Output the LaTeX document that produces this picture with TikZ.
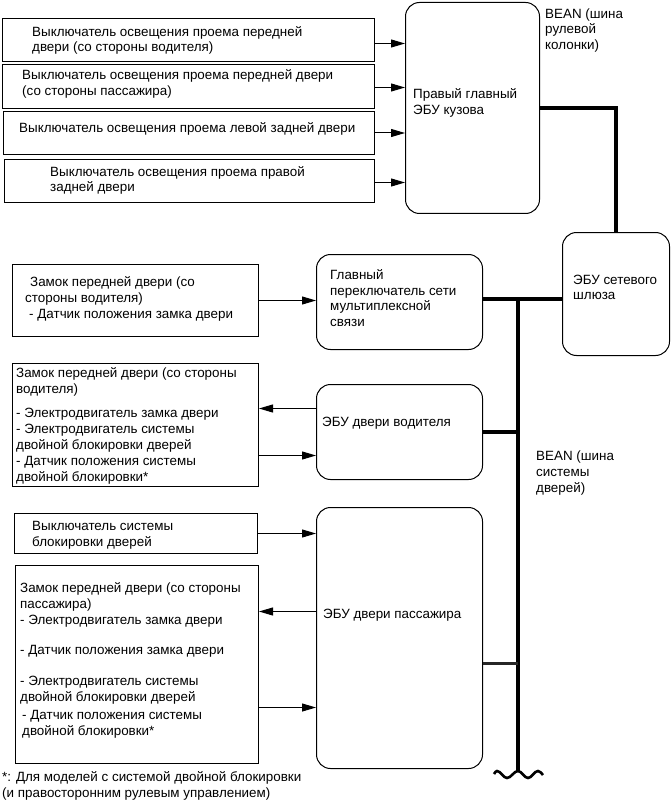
\documentclass[tikz,border=0pt]{standalone}
\usepackage{fontspec}
\setmainfont{Liberation Sans}
\usetikzlibrary{arrows.meta,positioning,calc}

\begin{document}
\begin{tikzpicture}[x=1pt,y=-1pt,
  box/.style={draw,line width=1pt,inner sep=0pt,anchor=north west},
  ecu/.style={box,rounded corners=14pt},
  txt/.style={font=\fontsize{13.4}{15.7}\selectfont,align=left,anchor=west,inner sep=0pt},
  arr/.style={line width=1pt,-{Triangle[length=14pt,width=8pt]}},
  bus/.style={line width=4pt},
  thinbus/.style={line width=2.2pt,black!85}
]
  \useasboundingbox (0,0) rectangle (670,802);
  % Door courtesy switches
  \node[box,minimum width=372pt,minimum height=43pt] (sw1) at (2,18) {};
  \node[txt] (sw1t) at (32,40.5) {Выключатель освещения проема передней\\двери (со стороны водителя)};
  \node[box,minimum width=372pt,minimum height=44pt] (sw2) at (2,64) {};
  \node[txt] (sw2t) at (22,84) {Выключатель освещения проема передней двери\\(со стороны пассажира)};
  \node[box,minimum width=371pt,minimum height=43pt] (sw3) at (3,111) {};
  \node[txt] (sw3t) at (19,129) {Выключатель освещения проема левой задней двери};
  \node[box,minimum width=370pt,minimum height=43pt] (sw4) at (4,159) {};
  \node[txt] (sw4t) at (50,180.5) {Выключатель освещения проема правой\\задней двери};
  % Body ECU and gateway
  \node[ecu,minimum width=134pt,minimum height=211pt] (body) at (405,2) {};
  \node[txt] (bodyt) at (413,103) {Правый главный\\ЭБУ кузова};
  \node[txt] (bean1) at (545,30.5) {BEAN (шина\\рулевой\\колонки)};
  \node[ecu,minimum width=107pt,minimum height=123pt] (gw) at (562,232) {};
  \node[txt] (gwt) at (573,287.5) {ЭБУ сетевого\\шлюза};
  % Multiplex network master switch
  \node[ecu,minimum width=166pt,minimum height=95pt] (msw) at (316,254) {};
  \node[txt] (mswt) at (330,298) {Главный\\переключатель сети\\мультиплексной\\связи};
  \node[box,minimum width=246pt,minimum height=72pt] (dl1) at (12,264) {};
  \node[txt] (dl1t) at (25,299) {\hspace*{5pt}Замок передней двери (со\\стороны водителя)\\\hspace*{4pt}- Датчик положения замка двери};
  % Driver door
  \node[box,minimum width=246pt,minimum height=123pt] (dlk) at (12,363) {};
  \node[txt] (dlkt) at (16,426) {Замок передней двери (со стороны\\водителя)\\[9pt]- Электродвигатель замка двери\\- Электродвигатель системы\\двойной блокировки дверей\\[1pt]- Датчик положения системы\\двойной блокировки*};
  \node[ecu,minimum width=166pt,minimum height=95pt] (decu) at (316,384) {};
  \node[txt] (decut) at (322,423) {ЭБУ двери водителя};
  % Passenger door
  \node[box,minimum width=243pt,minimum height=40pt] (lsw) at (14,513) {};
  \node[txt] (lswt) at (32,535.5) {Выключатель системы\\блокировки дверей};
  \node[box,minimum width=243pt,minimum height=198pt] (plk) at (15,565) {};
  \node[txt] (plkt) at (20,660.5) {Замок передней двери (со стороны\\пассажира)\\- Электродвигатель замка двери\\[15pt]- Датчик положения замка двери\\[15pt]- Электродвигатель системы\\двойной блокировки дверей\\[3pt]\hspace*{2pt}- Датчик положения системы\\\hspace*{2pt}двойной блокировки*};
  \node[ecu,minimum width=166pt,minimum height=261pt] (pecu) at (316,507) {};
  \node[txt] (pecut) at (323,615) {ЭБУ двери пассажира};
  \node[txt] (bean2) at (536,473) {BEAN (шина\\системы\\дверей)};
  \node[txt] (note) at (2,786) {*: Для моделей с системой двойной блокировки\\(и правосторонним рулевым управлением)};
  % Signal arrows
  \draw[arr] ([yshift=-3.5pt]sw1.east) -- ([yshift=-3.5pt]sw1.east -| body.west);
  \draw[arr] ([yshift=-1pt]sw2.east) -- ([yshift=-1pt]sw2.east -| body.west);
  \draw[arr] (sw3.east) -- (sw3.east -| body.west);
  \draw[arr] ([yshift=-1.5pt]sw4.east) -- ([yshift=-1.5pt]sw4.east -| body.west);
  \draw[arr] (dl1.east) -- (dl1.east -| msw.west);
  \draw[arr] ([yshift=16.5pt]dlk.east -| decu.west) -- ([yshift=16.5pt]dlk.east);
  \draw[arr] ([yshift=-30.5pt]dlk.east) -- ([yshift=-30.5pt]dlk.east -| decu.west);
  \draw[arr] (lsw.east) -- (lsw.east -| pecu.west);
  \draw[arr] ([yshift=53pt]plk.east -| pecu.west) -- ([yshift=53pt]plk.east);
  \draw[arr] ([yshift=-43pt]plk.east) -- ([yshift=-43pt]plk.east -| pecu.west);
  % BEAN buses
  \coordinate (busT) at (518,299);
  \coordinate (busB) at (518,771);
  \draw[bus] (body.east) -| (gw.north);
  \draw[bus] (msw.east |- busT) -- (gw.west |- busT);
  \draw[bus] (busT) -- (busB);
  \draw[bus] (decu.east) -- (decu.east -| busT);
  \draw[thinbus] ([yshift=-25.5pt]pecu.east) -- ([yshift=-25.5pt]pecu.east -| busT);
  \draw[line width=2.6pt] ($(busB)+(-24,3)$) sin ++(3,-3) cos ++(5,3.5) sin ++(5,3.5)
    cos ++(5.5,-3.5) sin ++(5.5,-3.5) cos ++(5,3.5) sin ++(5,3.5)
    cos ++(5,-3.5) sin ++(5,-3.5) cos ++(5,4);
\end{tikzpicture}
\end{document}
